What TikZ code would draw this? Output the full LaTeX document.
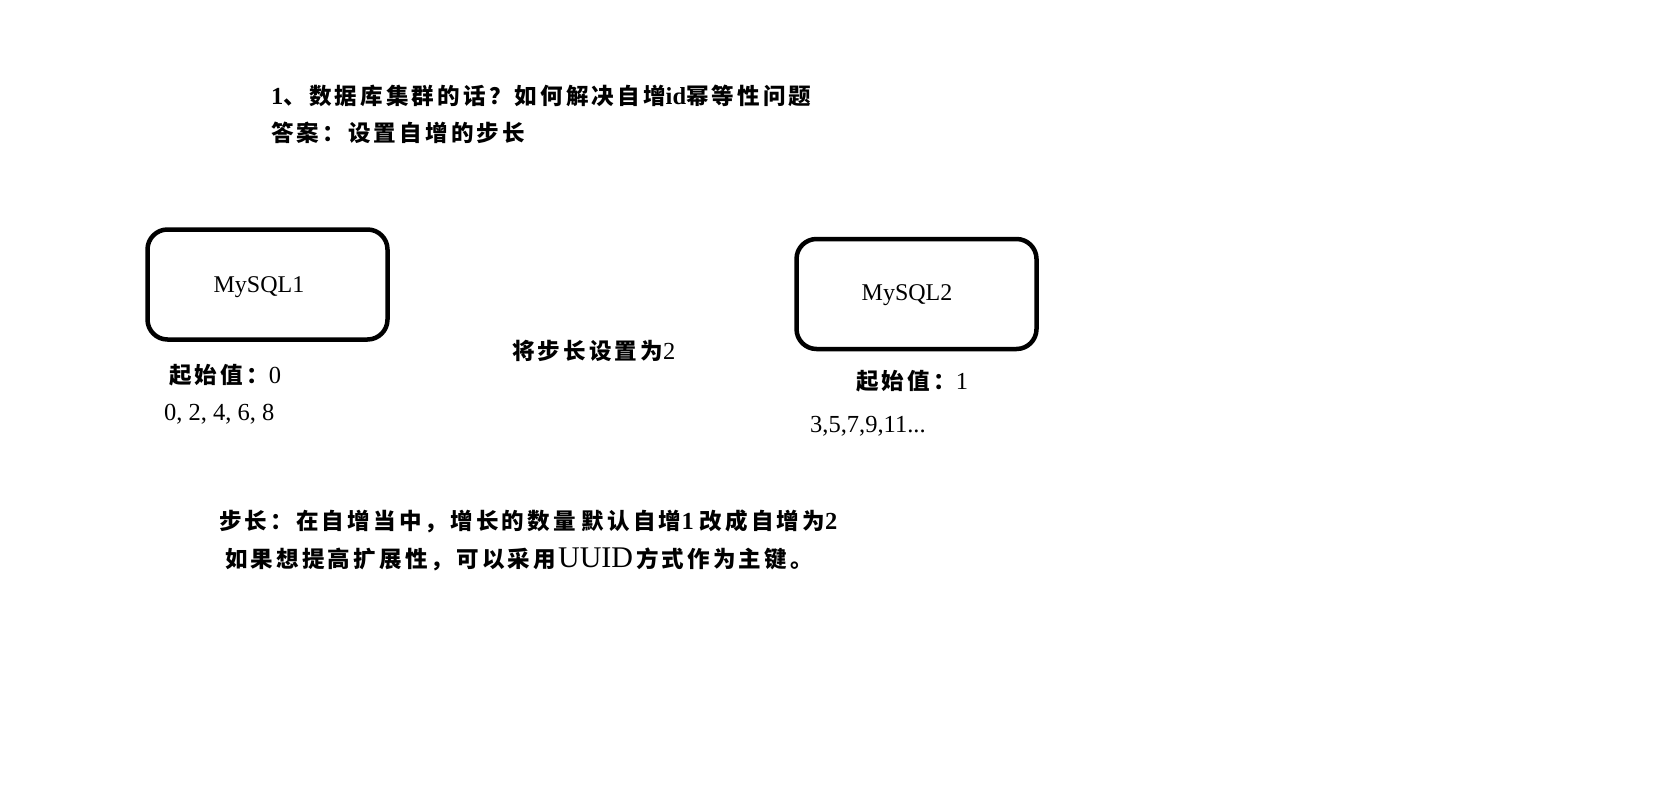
\documentclass[tikz,border=0pt]{standalone}
\usepackage{fontspec}
\setmainfont{Liberation Serif}
\newfontfamily\cjk{Noto Sans CJK SC}[LetterSpace=14,Scale=0.92]
\newcommand\zh[1]{{\cjk #1}}

\begin{document}
\begin{tikzpicture}[x=1pt,y=-1pt,
  dbbox/.style={draw,line width=4.5pt,rounded corners=20pt,minimum width=240pt,minimum height=110pt},
  note/.style={anchor=west,inner sep=0pt,font=\fontsize{24.5}{28}\selectfont},
  boldnote/.style={note,font=\fontsize{24.5}{28}\selectfont\bfseries}]
  \useasboundingbox (0,0) rectangle (1653,805);

  % question and answer
  \node[boldnote] (question) at (271,96) {1\zh{、数据库集群的话？如何解决自增}id\zh{幂等性问题}};
  \node[boldnote] (answer) at (271,133) {\zh{答案：设置自增的步长}};

  % the two databases
  \node[dbbox] (mysql1) at (267.5,284.5) {};
  \node[dbbox] (mysql2) at (916.5,294) {};
  \node[inner sep=0pt,font=\fontsize{24}{28}\selectfont] (name1) at (259,287) {MySQL1};
  \node[inner sep=0pt,font=\fontsize{24}{28}\selectfont] (name2) at (907,295) {MySQL2};

  \node[boldnote] (step) at (512,351) {\zh{将步长设置为}\mdseries 2};

  \node[boldnote] (start1) at (169,375) {\zh{起始值：}\mdseries 0};
  \node[note] (seq1) at (164,414) {0, 2, 4, 6, 8};
  \node[boldnote] (start2) at (856,381) {\zh{起始值：}\mdseries 1};
  \node[note] (seq2) at (810,426) {3,5,7,9,11...};

  % remarks
  \node[boldnote] (remark1) at (219,521) {\zh{步长：在自增当中，增长的数量}\ \zh{默认自增}1\ \zh{改成自增为}2};
  \node[boldnote] (remark2) at (225,559) {\zh{如果想提高扩展性，可以采用}\hspace{2pt}{\fontsize{30}{30}\selectfont\mdseries UUID}\hspace{3pt}\zh{方式作为主键。}};
\end{tikzpicture}
\end{document}
